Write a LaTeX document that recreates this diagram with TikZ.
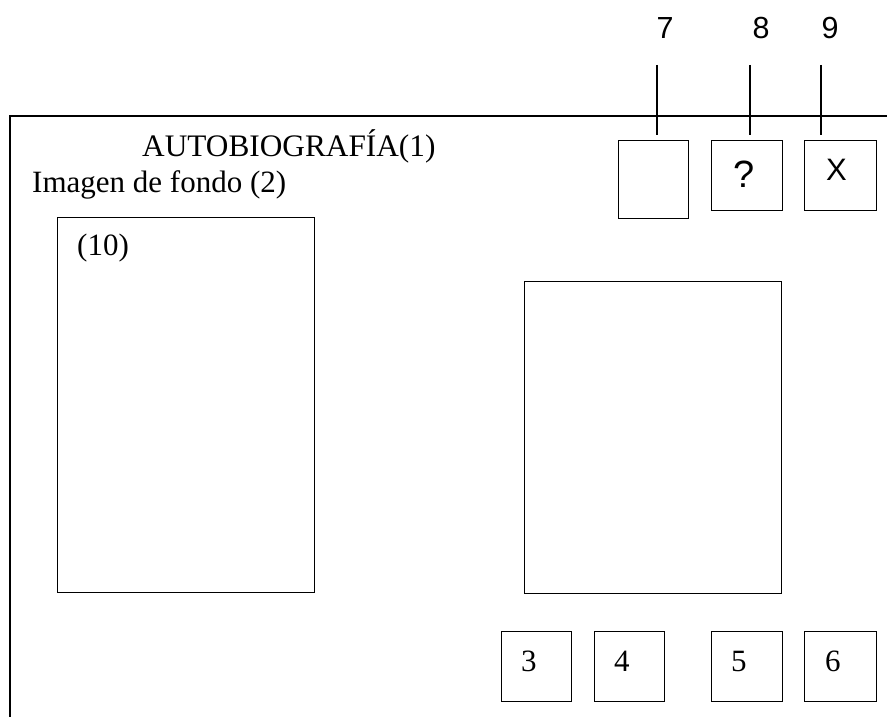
\documentclass[tikz,border=0pt]{standalone}
\usepackage{fontspec}
\setmainfont{Liberation Serif}
\newfontfamily\arialfont{Liberation Sans}
\begin{document}
\begin{tikzpicture}[x=1pt,y=-1pt,
  frameline/.style={line width=1.4pt,black},
  box/.style={draw,line width=1.4pt,inner sep=0pt,anchor=north west},
  serif/.style={inner sep=0pt,anchor=base west,font=\fontsize{31}{36}\selectfont},
  sans/.style={inner sep=0pt,anchor=base,font=\arialfont\fontsize{30.5}{36}\selectfont},
  thin/.style={inner sep=0pt,anchor=base,font=\arialfont\fontsize{31}{36}\selectfont}]
\useasboundingbox (0,0) rectangle (887,717);
% outer frame (open at right and bottom)
\coordinate (fbl) at (10,717);
\coordinate (ftl) at (10,116);
\coordinate (ftr) at (887,116);
\draw[frameline] (fbl) -- (ftl) -- (ftr);
% title texts
\node[serif,font=\fontsize{31.3}{36}\selectfont] (title) at (142,157) {AUTOBIOGRAFÍA(1)};
\node[serif] (img) at (32,192) {Imagen de fondo (2)};
% left image box
\node[box,minimum width=257pt,minimum height=375pt] (b10) at (57,217) {};
\node[serif] (t10) at (77,255) {(10)};
% right big box
\node[box,minimum width=257pt,minimum height=312pt] (big) at (524,281) {};
% top buttons
\node[box,minimum width=70pt,minimum height=78pt] (b7) at (618,140) {};
\node[box,minimum width=71pt,minimum height=70pt] (b8) at (711,140) {};
\node[box,minimum width=72pt,minimum height=70pt] (b9) at (804,140) {};
\node[thin,font=\arialfont\fontsize{38}{44}\selectfont] (q) at (744,187) {?};
\node[thin] (x) at (836.5,180) {X};
% leader lines and labels
\coordinate (l7a) at (657,65); \coordinate (l7b) at (657,135);
\coordinate (l8a) at (750,65); \coordinate (l8b) at (750,135);
\coordinate (l9a) at (821,65); \coordinate (l9b) at (821,135);
\draw[frameline] (l7a) -- (l7b);
\draw[frameline] (l8a) -- (l8b);
\draw[frameline] (l9a) -- (l9b);
\node[sans] (n7) at (665,39) {7};
\node[sans] (n8) at (761,39) {8};
\node[sans] (n9) at (830,39) {9};
% bottom buttons
\node[box,minimum width=70pt,minimum height=70pt] (b3) at (501,631) {};
\node[box,minimum width=70pt,minimum height=70pt] (b4) at (594,631) {};
\node[box,minimum width=71pt,minimum height=70pt] (b5) at (711,631) {};
\node[box,minimum width=72pt,minimum height=70pt] (b6) at (804,631) {};
\node[serif] (t3) at (521,671) {3};
\node[serif] (t4) at (614,671) {4};
\node[serif] (t5) at (731,671) {5};
\node[serif] (t6) at (825,671) {6};
\end{tikzpicture}
\end{document}
